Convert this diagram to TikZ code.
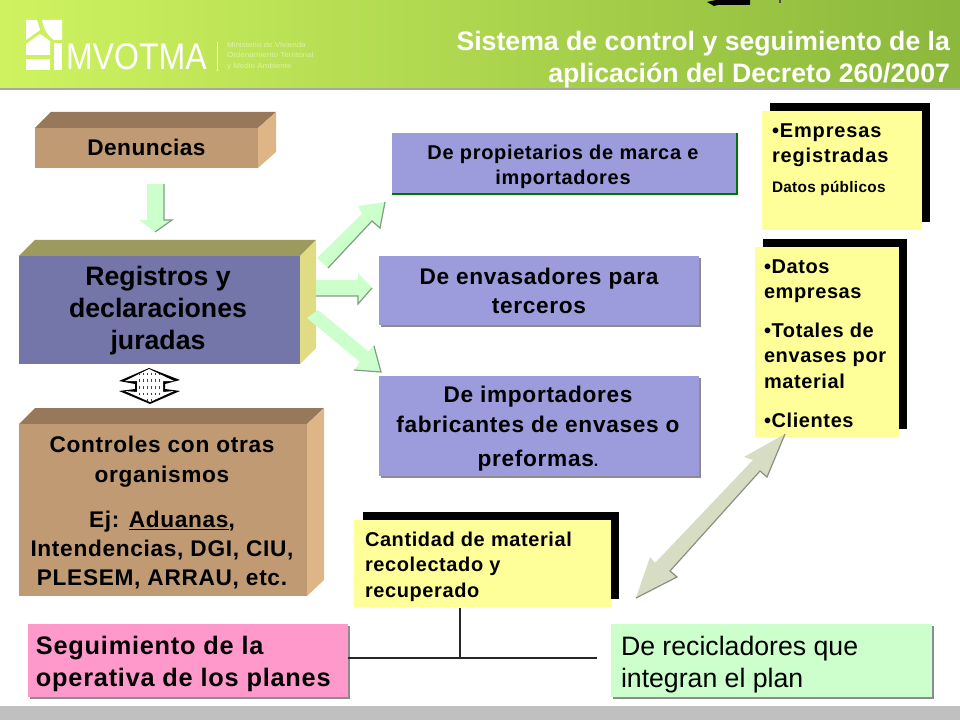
\documentclass[tikz,border=0pt]{standalone}
\usepackage{fontspec}
\setmainfont{Liberation Sans}
\definecolor{hdrL}{HTML}{CFF360}
\definecolor{hdrM}{HTML}{BDE455}
\definecolor{hdrR}{HTML}{8BB83C}
\definecolor{brownF}{HTML}{C09A72}
\definecolor{brownT}{HTML}{97785A}
\definecolor{brownS}{HTML}{DEB587}
\definecolor{violF}{HTML}{7475A9}
\definecolor{violT}{HTML}{9C9A5E}
\definecolor{violS}{HTML}{E0DC84}
\definecolor{blueB}{HTML}{9C9CDC}
\definecolor{yel}{HTML}{FFFF99}
\definecolor{pinkB}{HTML}{FF99CC}
\definecolor{greenB}{HTML}{CCFFCC}
\definecolor{arr}{HTML}{CCFFCC}
\definecolor{arrD}{HTML}{7F9F80}
\definecolor{arrG}{HTML}{D6DDC2}
\definecolor{arrGD}{HTML}{8A9080}
\definecolor{barG}{HTML}{C0C0C0}
\newcommand{\fsb}[3]{\fontsize{#1}{#2}\bfseries\selectfont\addfontfeature{LetterSpace=#3}}
\tikzset{
  x=0.75pt,y=-0.75pt,
  every node/.style={inner sep=0pt,outer sep=0pt,text=black},
  boxtext/.style={align=center,anchor=center},
  solidbox/.style={anchor=north west},
  listtext/.style={align=left,anchor=north west},
  blockarrow/.style={fill=arr},
  arrowedge/.style={draw=arrD,line width=0.9pt},
  linkline/.style={draw=black!85,line width=0.9pt},
  softshadow/.style={fill=black!45}
}
\begin{document}
\begin{tikzpicture}
\useasboundingbox (0,0) rectangle (960,720);
\fill[white] (0,0) rectangle (960,720);
% header
\shade[left color=hdrL,middle color=hdrM,right color=hdrR] (0,0) rectangle (960,88);
\fill[black!35] (0,88) rectangle (960,90.5);
\fill[barG] (0,706) rectangle (960,720);
% logo
\fill[white] (26,20)--(37,20)--(40,30)--(26,40)--cycle;
\fill[white] (42,20)--(62,20)--(62,40)--(54,40) .. controls (48,36) and (44,30) .. (42,20)--cycle;
\fill[white] (26,44)--(40,34)--(50,41)--(50,55)--(26,55)--cycle;
\fill[white] (26,59) rectangle (50,70);
\fill[white] (54,43) rectangle (62,70);
\node[anchor=west,text=white,font=\fontsize{27.8}{30}\selectfont\addfontfeature{FakeStretch=0.865}] (logo) at (66,57) {MVOTMA};
\fill[white] (217,42) rectangle (218,71);
\node[anchor=west,align=left,text=white,text opacity=0.5,font=\fontsize{5.4}{7.9}\selectfont\addfontfeature{FakeStretch=1.12}] (logosub) at (227,56) {Ministerio de Vivienda\\Ordenamiento Territorial\\y Medio Ambiente};
% stray mark at top
\fill[black] (707,2)--(716,0)--(750,0)--(750,5)--(718,5)--(714,6)--cycle;
\fill[black!70] (779,0) rectangle (780.5,3);
% title
\node[anchor=east,align=right,text=white,font=\fsb{20}{24.2}{0}] (title) at (950,59.5) {Sistema de control y seguimiento de la\\aplicación del Decreto 260/2007};
% Denuncias
\fill[brownT] (35,128)--(51,112)--(276,112)--(258,128)--cycle;
\fill[brownS] (258,128)--(276,112)--(276,152)--(258,168)--cycle;
\node[fill=brownF,minimum width=167.25pt,minimum height=30pt,solidbox] (den) at (35,128) {};
\node[boxtext,font=\fsb{17}{20}{2}] (dent) at (146.5,147.5) {Denuncias};
% Registros
\fill[violT] (19,256)--(35,240)--(316,240)--(300,256)--cycle;
\fill[violS] (300,256)--(316,240)--(316,348)--(300,364)--cycle;
\node[fill=violF,minimum width=210.75pt,minimum height=81pt,solidbox] (reg) at (19,256) {};
\node[boxtext,font=\fsb{20}{24}{0}] (regt) at (158,311) {Registros y\\declaraciones\\juradas};
% Controles
\fill[brownT] (19,424)--(35,408)--(324,408)--(307,424)--cycle;
\fill[brownS] (307,424)--(324,408)--(324,580)--(307,596)--cycle;
\node[fill=brownF,minimum width=216pt,minimum height=129pt,solidbox] (con) at (19,424) {};
\node[boxtext,font=\fsb{17}{22.5}{3}] (cont) at (162,462) {Controles con otras\\organismos};
\node[boxtext,font=\fsb{17}{21.7}{3}] (cont2) at (162,550) {Ej: \underline{Aduanas},\\Intendencias, DGI, CIU,\\PLESEM, ARRAU, etc.};
% blue boxes
\fill[black!45] (393.5,135) rectangle (738,195.5);
\node[fill=blueB,minimum width=258.75pt,minimum height=45.75pt,solidbox] (b1) at (392,133) {};
\draw[green!45!black,line width=0.9pt] (392,194)--(737,194)--(737,133);
\node[boxtext,font=\fsb{15}{19}{3.4}] (b1t) at (563,166.5) {De propietarios de marca e\\importadores};
\fill[softshadow] (381,258) rectangle (700.5,326.5);
\node[fill=blueB,minimum width=240pt,minimum height=51.75pt,solidbox] (b2) at (379,256) {};
\node[boxtext,font=\fsb{17}{21.5}{3}] (b2t) at (539,291) {De envasadores para\\terceros};
\fill[softshadow] (381,378) rectangle (700.5,477.5);
\node[fill=blueB,minimum width=240pt,minimum height=75pt,solidbox] (b3) at (379,376) {};
\node[boxtext,font=\fsb{17}{22}{3}] (b3t) at (538,428.5) {De importadores\\fabricantes de envases o\\[3.5pt]preformas{\fontsize{12}{12}\selectfont.}};
% yellow boxes
\fill[black] (770,103) rectangle (930,222);
\node[fill=yel,minimum width=120pt,minimum height=89.25pt,solidbox] (y1) at (762,111) {};
\node[listtext,font=\fsb{15}{19}{4.3}] (y1t) at (772,123.5) {•Empresas\\registradas};
\node[listtext,font=\fsb{11.5}{14}{2}] (y1s) at (772,181) {Datos públicos};
\fill[black] (763,239) rectangle (907,429);
\node[fill=yel,minimum width=108pt,minimum height=142.5pt,solidbox] (y2) at (755,247) {};
\node[listtext,font=\fsb{15}{19}{3}] (y2a) at (764,259.5) {•Datos\\empresas};
\node[listtext,font=\fsb{15}{19}{3}] (y2b) at (764,323) {•Totales de\\envases por\\material};
\node[listtext,font=\fsb{15}{19}{3}] (y2c) at (764,413) {•Clientes};
\fill[black] (363,512) rectangle (619,599);
\node[fill=yel,minimum width=192.75pt,minimum height=65.25pt,solidbox] (y3) at (354,520) {};
\node[listtext,font=\fsb{15}{19}{3}] (y3t) at (365,532) {Cantidad de material\\recolectado y\\recuperado};
% bottom boxes
\fill[softshadow] (30,626) rectangle (349.5,698.5);
\node[fill=pinkB,minimum width=240pt,minimum height=54.75pt,solidbox] (pink) at (28,624) {};
\node[listtext,font=\fsb{19}{24}{3}] (pinkt) at (36,636) {Seguimiento de la\\operativa de los planes};
\fill[softshadow] (613,626) rectangle (933.5,698.5);
\node[fill=greenB,minimum width=240.75pt,minimum height=54.75pt,solidbox] (gr) at (611,624) {};
\node[listtext,font=\fontsize{20}{24}\selectfont] (grt) at (621,636) {De recicladores que\\integran el plan};
% connector lines
\coordinate (hend) at (597,658);
\coordinate (hmid) at (460,658);
\draw[linkline] (pink.east |- hend) -- (hend);
\draw[linkline] (y3.south -| hmid) ++(0,1) -- (hmid);
% block arrows
\fill[blockarrow] (147,184)--(164,184)--(164,220)--(172,220)--(155,232)--(139,220)--(147,220)--cycle;
\draw[arrowedge] (164,184)--(164,220)--(172,220)--(155,232);
\fill[blockarrow] (317,258)--(362,214)--(358,206)--(385,202)--(380,228)--(372,221)--(328,268)--cycle;
\draw[arrowedge] (328,268)--(372,221)--(380,228)--(385,202);
\fill[blockarrow] (316,280)--(358,280)--(358,273)--(372,288)--(358,304)--(358,296)--(316,296)--cycle;
\draw[arrowedge] (316,296)--(358,296)--(358,304)--(372,288);
\fill[blockarrow] (307,318)--(318,310)--(368,351)--(374,346)--(381,372)--(354,370)--(360,362)--cycle;
\draw[arrowedge] (374,346)--(381,372)--(354,370);
% double arrow
\fill[arrG] (785,434)--(767,477)--(760,471)--(670,571)--(677,577)--(636,598)--(650,557)--(655,563)--(753,460)--(744,457)--cycle;
\draw[arrGD,line width=0.9pt] (785,434)--(767,477)--(760,471)--(670,571)--(677,577)--(636,598);
% small up-down arrow
\fill[black] (119,381)--(149,368)--(180,380)--(165,384)--(165,389)--(180,391)--(150,404)--(119,391)--(135,389)--(135,384)--cycle;
\begin{scope}
\clip (125,381)--(149,369)--(174,381)--(163,381)--(163,392)--(174,391)--(150,402)--(125,391)--(137,392)--(137,381)--cycle;
\fill[white] (115,365) rectangle (185,405);
\foreach \xx in {139,143,...,161}{
  \draw[black!75,line width=0.7pt,dash pattern=on 2pt off 3pt] (\xx,366)--(\xx,405);
}
\end{scope}
\end{tikzpicture}
\end{document}
